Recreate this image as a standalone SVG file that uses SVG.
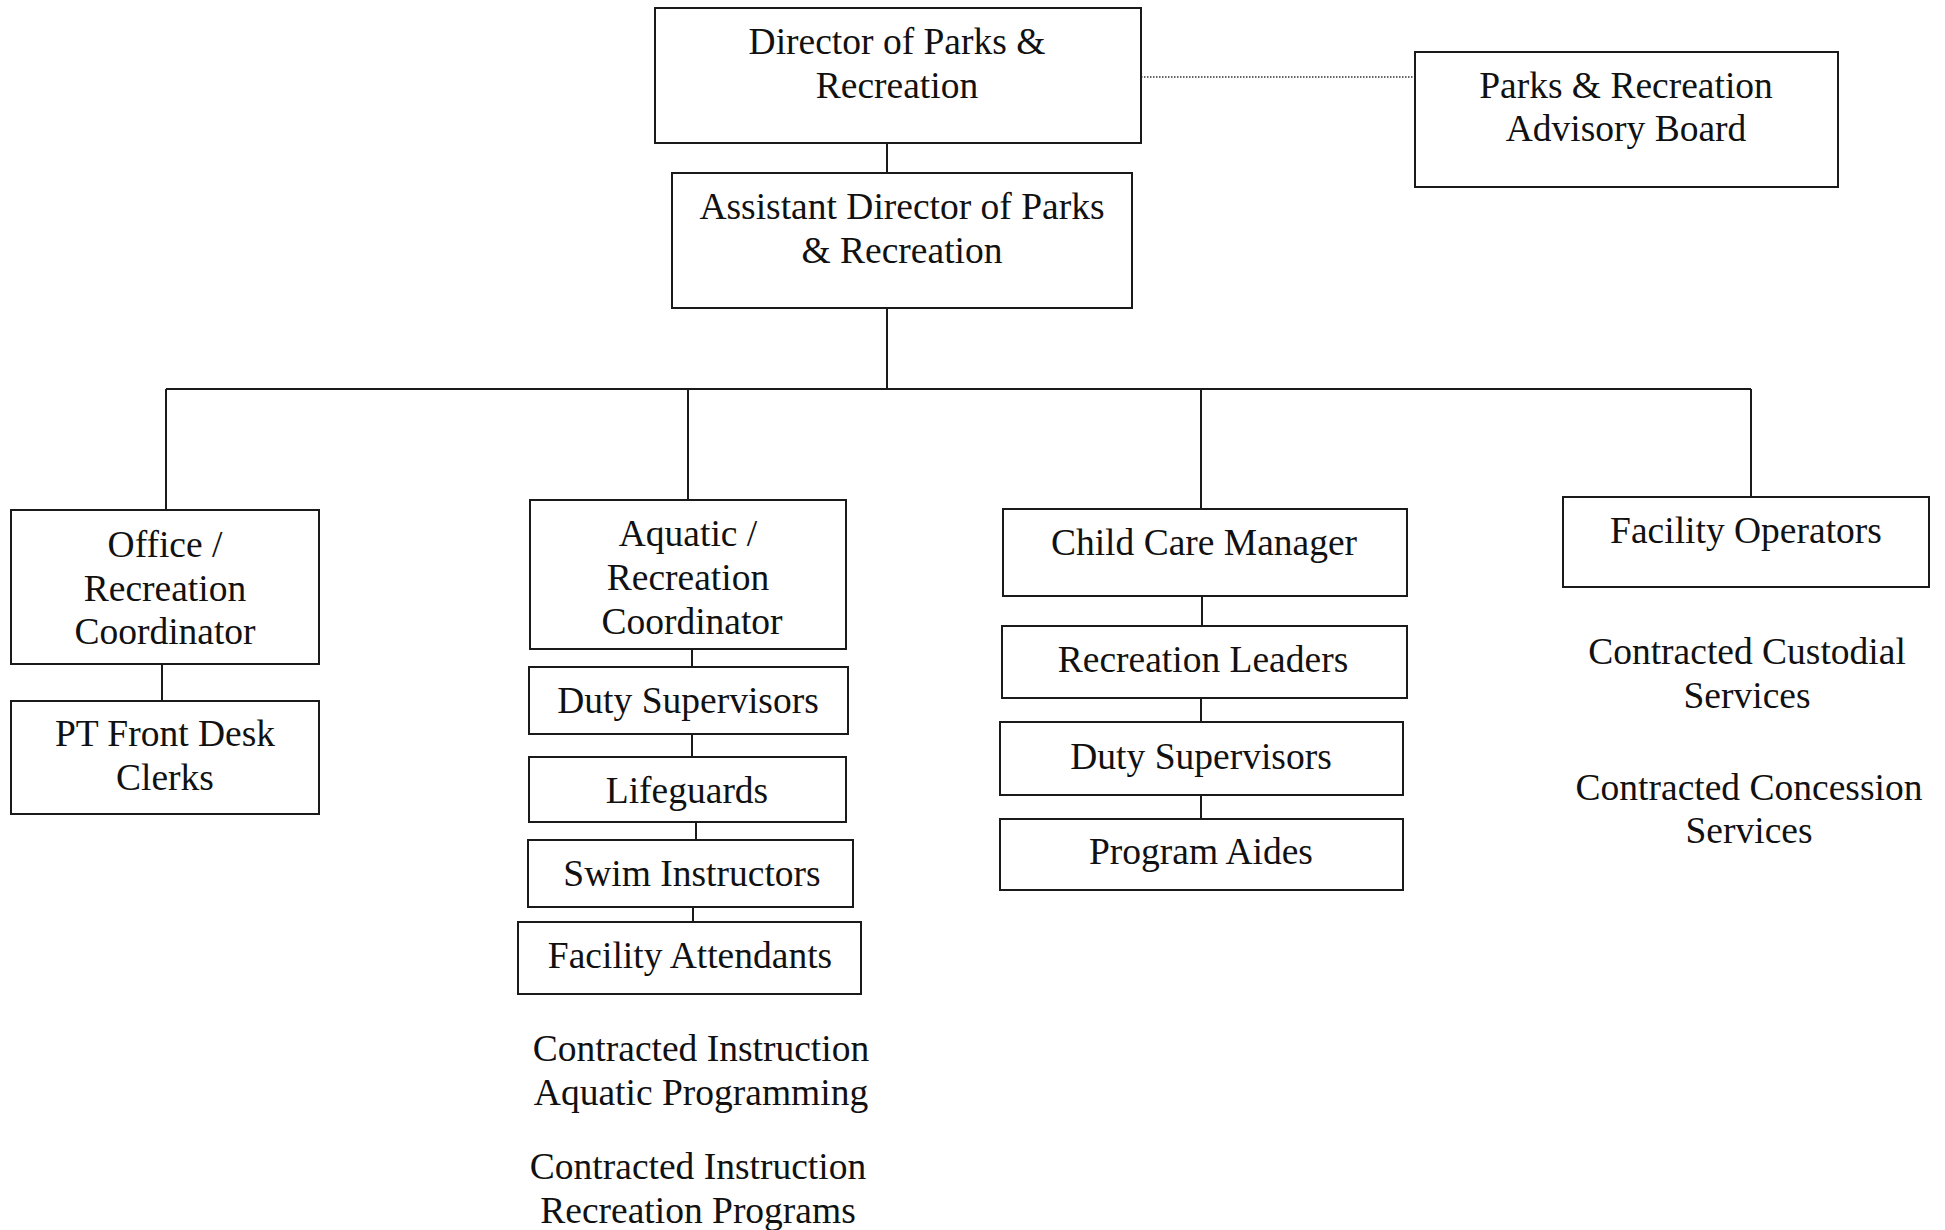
<svg xmlns="http://www.w3.org/2000/svg" width="1945" height="1230" viewBox="0 0 1945 1230">
  <style>
    .box { fill: #ffffff; stroke: #1a1a1a; stroke-width: 2; }
    .lbl { font-family: "Liberation Serif", "Times New Roman", serif; font-size: 37.5px; fill: #111111; text-anchor: middle; }
    .link { fill: none; stroke: #1a1a1a; stroke-width: 2; }
    .dotted { fill: none; stroke: #333333; stroke-width: 1.5; stroke-dasharray: 1.5 1.5; }
  </style>
  <rect width="1945" height="1230" fill="#ffffff"/>

  <!-- connectors -->
  <g id="connectors">
    <path class="link" d="M887,143 V173"/>
    <path class="link" d="M887,308 V389"/>
    <path class="link" d="M166,389 H1751"/>
    <path class="link" d="M166,389 V510"/>
    <path class="link" d="M688,389 V500"/>
    <path class="link" d="M1201,389 V509"/>
    <path class="link" d="M1751,389 V497"/>
    <path class="link" d="M162,664 V701"/>
    <path class="link" d="M692,649 V667"/>
    <path class="link" d="M692,734 V757"/>
    <path class="link" d="M696,822 V840"/>
    <path class="link" d="M693,907 V922"/>
    <path class="link" d="M1202,596 V626"/>
    <path class="link" d="M1201,698 V722"/>
    <path class="link" d="M1201,795 V819"/>
    <path class="dotted" d="M1141,77 H1415"/>
  </g>

  <!-- top level -->
  <g id="director">
    <rect class="box" x="655" y="8" width="486" height="135"/>
    <text class="lbl" x="897" y="54">Director of Parks &amp;</text>
    <text class="lbl" x="897" y="98">Recreation</text>
  </g>
  <g id="advisory-board">
    <rect class="box" x="1415" y="52" width="423" height="135"/>
    <text class="lbl" x="1626" y="98">Parks &amp; Recreation</text>
    <text class="lbl" x="1626" y="141">Advisory Board</text>
  </g>
  <g id="assistant-director">
    <rect class="box" x="672" y="173" width="460" height="135"/>
    <text class="lbl" x="902" y="219">Assistant Director of Parks</text>
    <text class="lbl" x="902" y="263">&amp; Recreation</text>
  </g>

  <!-- office branch -->
  <g id="office-coordinator">
    <rect class="box" x="11" y="510" width="308" height="154"/>
    <text class="lbl" x="165" y="557">Office /</text>
    <text class="lbl" x="165" y="601">Recreation</text>
    <text class="lbl" x="165" y="644">Coordinator</text>
  </g>
  <g id="front-desk-clerks">
    <rect class="box" x="11" y="701" width="308" height="113"/>
    <text class="lbl" x="165" y="746">PT Front Desk</text>
    <text class="lbl" x="165" y="790">Clerks</text>
  </g>

  <!-- aquatic branch -->
  <g id="aquatic-coordinator">
    <rect class="box" x="530" y="500" width="316" height="149"/>
    <text class="lbl" x="688" y="546">Aquatic /</text>
    <text class="lbl" x="688" y="590">Recreation</text>
    <text class="lbl" x="692" y="634">Coordinator</text>
  </g>
  <g id="aquatic-duty-supervisors">
    <rect class="box" x="529" y="667" width="319" height="67"/>
    <text class="lbl" x="688" y="713">Duty Supervisors</text>
  </g>
  <g id="lifeguards">
    <rect class="box" x="529" y="757" width="317" height="65"/>
    <text class="lbl" x="687" y="803">Lifeguards</text>
  </g>
  <g id="swim-instructors">
    <rect class="box" x="528" y="840" width="325" height="67"/>
    <text class="lbl" x="692" y="886">Swim Instructors</text>
  </g>
  <g id="facility-attendants">
    <rect class="box" x="518" y="922" width="343" height="72"/>
    <text class="lbl" x="690" y="968">Facility Attendants</text>
  </g>
  <g id="contracted-aquatic">
    <text class="lbl" x="701" y="1061">Contracted Instruction</text>
    <text class="lbl" x="701" y="1105">Aquatic Programming</text>
  </g>
  <g id="contracted-recreation">
    <text class="lbl" x="698" y="1179">Contracted Instruction</text>
    <text class="lbl" x="698" y="1223">Recreation Programs</text>
  </g>

  <!-- child care branch -->
  <g id="child-care-manager">
    <rect class="box" x="1003" y="509" width="404" height="87"/>
    <text class="lbl" x="1204" y="555">Child Care Manager</text>
  </g>
  <g id="recreation-leaders">
    <rect class="box" x="1002" y="626" width="405" height="72"/>
    <text class="lbl" x="1203" y="672">Recreation Leaders</text>
  </g>
  <g id="childcare-duty-supervisors">
    <rect class="box" x="1000" y="722" width="403" height="73"/>
    <text class="lbl" x="1201" y="769">Duty Supervisors</text>
  </g>
  <g id="program-aides">
    <rect class="box" x="1000" y="819" width="403" height="71"/>
    <text class="lbl" x="1201" y="864">Program Aides</text>
  </g>

  <!-- facilities branch -->
  <g id="facility-operators">
    <rect class="box" x="1563" y="497" width="366" height="90"/>
    <text class="lbl" x="1746" y="543">Facility Operators</text>
  </g>
  <g id="contracted-custodial">
    <text class="lbl" x="1747" y="664">Contracted Custodial</text>
    <text class="lbl" x="1747" y="708">Services</text>
  </g>
  <g id="contracted-concession">
    <text class="lbl" x="1749" y="800">Contracted Concession</text>
    <text class="lbl" x="1749" y="843">Services</text>
  </g>
</svg>
